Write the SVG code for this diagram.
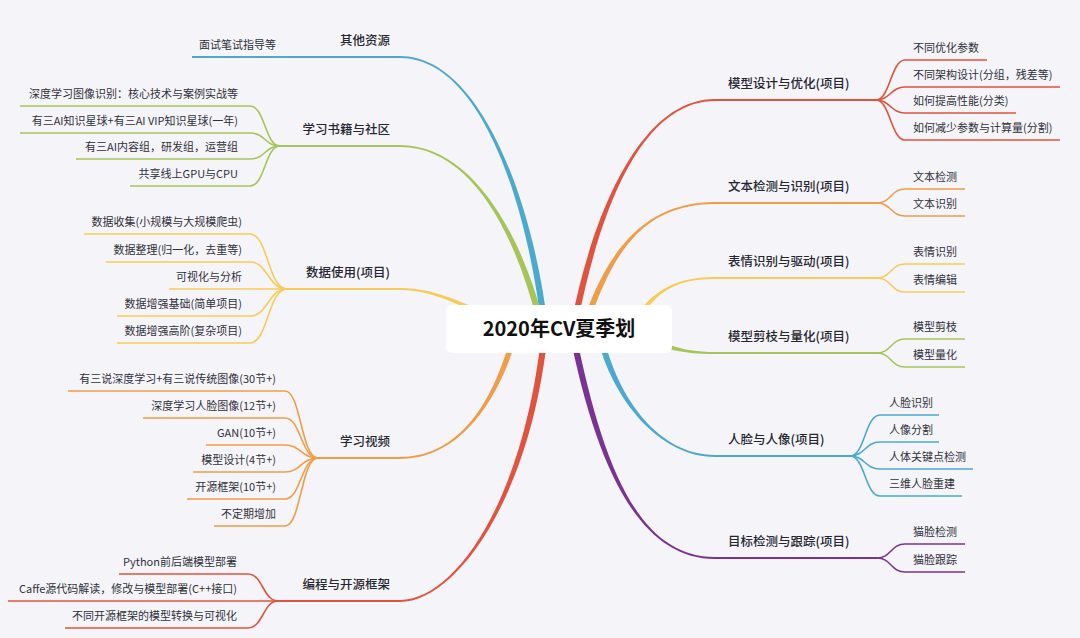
<svg xmlns="http://www.w3.org/2000/svg" width="1080" height="638" viewBox="0 0 1080 638">
<style>
.bg{fill:#f5f5f9}
.ln{fill:none;stroke-width:1.8}
.lf{fill:none;stroke-width:1.6}
.blue{stroke:#4ba9cf}.fblue{fill:#4ba9cf}
.green{stroke:#a7c45b}.fgreen{fill:#a7c45b}
.yellow{stroke:#f7cb58}.fyellow{fill:#f7cb58}
.orange{stroke:#ef9d48}.forange{fill:#ef9d48}
.red{stroke:#e0533f}.fred{fill:#e0533f}
.purple{stroke:#7a3392}.fpurple{fill:#7a3392}
.main{font-family:"Noto Sans CJK SC","Liberation Sans",sans-serif;font-size:12.5px;font-weight:500;fill:#262630}
.leaf{font-family:"Noto Sans CJK SC","Liberation Sans",sans-serif;font-size:11px;fill:#30303a}
.L{text-anchor:end}
.root{font-family:"Noto Sans CJK SC","Liberation Sans",sans-serif;font-size:20px;font-weight:bold;fill:#111;text-anchor:middle}
</style>
<rect class="bg" x="0" y="0" width="1080" height="638"/>
<g id="connectors">
  <path class="fblue" d="M548.2 329 C533.2 200 480 56 400 56 L400 58 C480 58 526.8 200 541.8 329 Z"/>
  <path class="fgreen" d="M543.2 320 C520.2 230 470 145 400 145 L400 147 C470 147 513.8 230 536.8 320 Z"/>
  <path class="fyellow" d="M520 332 C480 309 440 288 400 288 L400 290 C440 290 480 315 520 338 Z"/>
  <path class="forange" d="M514.8 320 C501.8 380 470 457 400 457 L400 459 C470 459 508.2 380 521.2 320 Z"/>
  <path class="fred" d="M541.8 330 C524.8 500 455 600 400 600 L400 602 C455 602 531.2 500 548.2 330 Z"/>
  <path class="fred" d="M571.8 320 C591.8 220 638 99 715 99 L715 101 C638 101 598.2 220 578.2 320 Z"/>
  <path class="forange" d="M581.8 325 C606.8 250 645 202 715 202 L715 204 C645 204 613.2 250 588.2 325 Z"/>
  <path class="fyellow" d="M626.8 330 C646.8 295 670 277 715 277 L715 279 C670 279 653.2 295 633.2 330 Z"/>
  <path class="fgreen" d="M640 332 C660 342 680 352 715 352 L715 354 C680 354 660 348 640 338 Z"/>
  <path class="fblue" d="M603.2 335 C618.2 400 660 455 715 455 L715 457 C660 457 611.8 400 596.8 335 Z"/>
  <path class="fpurple" d="M575.2 330 C603.2 470 640 557 715 557 L715 559 C640 559 596.8 470 568.8 330 Z"/>
  <path class="ln blue" d="M400 57 H192"/>
  <path class="ln green" d="M400 146 H280"/>
  <path class="ln yellow" d="M400 289 H287"/>
  <path class="ln orange" d="M400 458 H318"/>
  <path class="ln red" d="M400 601 H278"/>
  <path class="ln red" d="M715 100 H876"/>
  <path class="ln orange" d="M715 203 H877"/>
  <path class="ln yellow" d="M715 278 H877"/>
  <path class="ln green" d="M715 353 H877"/>
  <path class="ln blue" d="M715 456 H850"/>
  <path class="ln purple" d="M715 558 H877"/>
  <path class="lf green" d="M20 106 H250 C265 106 265 146 280 146"/>
  <path class="lf green" d="M20 133 H250 C265 133 265 146 280 146"/>
  <path class="lf green" d="M76 159 H250 C265 159 265 146 280 146"/>
  <path class="lf green" d="M130 186 H250 C265 186 265 146 280 146"/>
  <path class="lf yellow" d="M84 234 H250 C268 234 268 289 287 289"/>
  <path class="lf yellow" d="M106 262 H250 C268 262 268 289 287 289"/>
  <path class="lf yellow" d="M169 289 H287"/>
  <path class="lf yellow" d="M117 316 H250 C268 316 268 289 287 289"/>
  <path class="lf yellow" d="M117 343 H250 C268 343 268 289 287 289"/>
  <path class="lf orange" d="M68 391 H285 C301 391 301 458 318 458"/>
  <path class="lf orange" d="M143 418 H285 C301 418 301 458 318 458"/>
  <path class="lf orange" d="M206 445 H285 C301 445 301 458 318 458"/>
  <path class="lf orange" d="M193 472 H285 C301 472 301 458 318 458"/>
  <path class="lf orange" d="M187 499 H285 C301 499 301 458 318 458"/>
  <path class="lf orange" d="M214 526 H285 C301 526 301 458 318 458"/>
  <path class="lf red" d="M119 574 H248 C263 574 263 601 278 601"/>
  <path class="lf red" d="M8 601 H278"/>
  <path class="lf red" d="M65 628 H248 C263 628 263 601 278 601"/>
  <path class="lf red" d="M876 100 C890 100 891 60 905 60 H987"/>
  <path class="lf red" d="M876 100 C890 100 891 87 905 87 H1060"/>
  <path class="lf red" d="M876 100 C890 100 891 113 905 113 H1016"/>
  <path class="lf red" d="M876 100 C890 100 891 140 905 140 H1060"/>
  <path class="lf orange" d="M877 203 C891 203 891 189 905 189 H965"/>
  <path class="lf orange" d="M877 203 C891 203 891 216 905 216 H965"/>
  <path class="lf yellow" d="M877 278 C891 278 891 264 905 264 H965"/>
  <path class="lf yellow" d="M877 278 C891 278 891 292 905 292 H965"/>
  <path class="lf green" d="M877 353 C891 353 891 339 905 339 H965"/>
  <path class="lf green" d="M877 353 C891 353 891 367 905 367 H965"/>
  <path class="lf blue" d="M850 456 C865 456 865 415 880 415 H939"/>
  <path class="lf blue" d="M850 456 C865 456 865 442 880 442 H939"/>
  <path class="lf blue" d="M850 456 C865 456 865 469 880 469 H973"/>
  <path class="lf blue" d="M850 456 C865 456 865 496 880 496 H962"/>
  <path class="lf purple" d="M877 558 C891 558 891 544 905 544 H965"/>
  <path class="lf purple" d="M877 558 C891 558 891 572 905 572 H965"/>
</g>
<g id="root">
  <rect x="446" y="305" width="226" height="48" rx="6" fill="#ffffff"/>
  <text class="root" x="559" y="336">2020年CV夏季划</text>
</g>
<g id="n-other">
  <text class="main L" x="390" y="44.5">其他资源</text>
  <text class="leaf L" x="276" y="49">面试笔试指导等</text>
</g>
<g id="n-books">
  <text class="main L" x="390" y="133.5">学习书籍与社区</text>
  <text class="leaf L" x="238" y="98">深度学习图像识别：核心技术与案例实战等</text>
  <text class="leaf L" x="238" y="125">有三AI知识星球+有三AI VIP知识星球(一年)</text>
  <text class="leaf L" x="238" y="151">有三AI内容组，研发组，运营组</text>
  <text class="leaf L" x="238" y="178">共享线上GPU与CPU</text>
</g>
<g id="n-data">
  <text class="main L" x="390" y="276.5">数据使用(项目)</text>
  <text class="leaf L" x="242" y="226">数据收集(小规模与大规模爬虫)</text>
  <text class="leaf L" x="242" y="254">数据整理(归一化，去重等)</text>
  <text class="leaf L" x="242" y="281">可视化与分析</text>
  <text class="leaf L" x="242" y="308">数据增强基础(简单项目)</text>
  <text class="leaf L" x="242" y="335">数据增强高阶(复杂项目)</text>
</g>
<g id="n-video">
  <text class="main L" x="390" y="445.5">学习视频</text>
  <text class="leaf L" x="276" y="383">有三说深度学习+有三说传统图像(30节+)</text>
  <text class="leaf L" x="276" y="410">深度学习人脸图像(12节+)</text>
  <text class="leaf L" x="276" y="437">GAN(10节+)</text>
  <text class="leaf L" x="276" y="464">模型设计(4节+)</text>
  <text class="leaf L" x="276" y="491">开源框架(10节+)</text>
  <text class="leaf L" x="276" y="518">不定期增加</text>
</g>
<g id="n-code">
  <text class="main L" x="390" y="588.5">编程与开源框架</text>
  <text class="leaf L" x="237" y="566">Python前后端模型部署</text>
  <text class="leaf L" x="237" y="593">Caffe源代码解读，修改与模型部署(C++接口)</text>
  <text class="leaf L" x="237" y="620">不同开源框架的模型转换与可视化</text>
</g>
<g id="n-design">
  <text class="main" x="728" y="87.5">模型设计与优化(项目)</text>
  <text class="leaf" x="913" y="52">不同优化参数</text>
  <text class="leaf" x="913" y="79">不同架构设计(分组，残差等)</text>
  <text class="leaf" x="913" y="105">如何提高性能(分类)</text>
  <text class="leaf" x="913" y="132">如何减少参数与计算量(分割)</text>
</g>
<g id="n-text">
  <text class="main" x="728" y="190.5">文本检测与识别(项目)</text>
  <text class="leaf" x="913" y="181">文本检测</text>
  <text class="leaf" x="913" y="208">文本识别</text>
</g>
<g id="n-face-exp">
  <text class="main" x="728" y="265.5">表情识别与驱动(项目)</text>
  <text class="leaf" x="913" y="256">表情识别</text>
  <text class="leaf" x="913" y="284">表情编辑</text>
</g>
<g id="n-prune">
  <text class="main" x="728" y="340.5">模型剪枝与量化(项目)</text>
  <text class="leaf" x="913" y="331">模型剪枝</text>
  <text class="leaf" x="913" y="359">模型量化</text>
</g>
<g id="n-face">
  <text class="main" x="728" y="443.5">人脸与人像(项目)</text>
  <text class="leaf" x="889" y="407">人脸识别</text>
  <text class="leaf" x="889" y="434">人像分割</text>
  <text class="leaf" x="889" y="461">人体关键点检测</text>
  <text class="leaf" x="889" y="488">三维人脸重建</text>
</g>
<g id="n-detect">
  <text class="main" x="728" y="545.5">目标检测与跟踪(项目)</text>
  <text class="leaf" x="913" y="536">猫脸检测</text>
  <text class="leaf" x="913" y="564">猫脸跟踪</text>
</g>
</svg>
